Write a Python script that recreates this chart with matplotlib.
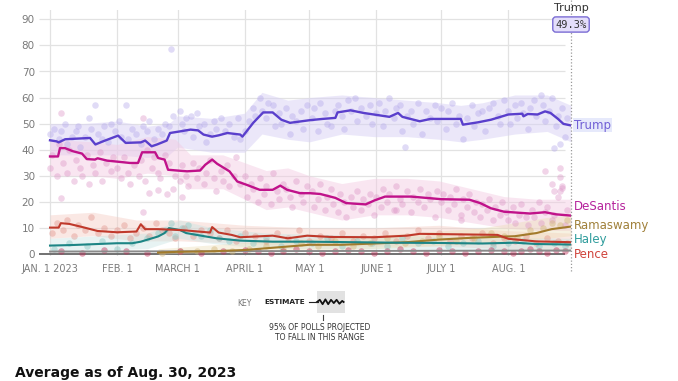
import matplotlib
matplotlib.use("Agg")
import matplotlib.pyplot as plt
import pandas as pd
import numpy as np
from matplotlib.lines import Line2D
from matplotlib.patches import Rectangle

plt.rcParams['font.family'] = ['DejaVu Sans']

BASE = pd.Timestamp('2023-01-01')
END = pd.Timestamp('2023-08-30')

def to_dates(days):
    return BASE + pd.to_timedelta(np.asarray(days, dtype=float), unit='D')

# ---------------- data (days since Jan 1, 2023) ----------------
trump_days = [0, 3, 4, 7, 18.5, 21, 24.5, 31.5, 35, 42, 44, 47, 49.5, 54, 55.5, 60, 65, 68.5, 71, 75, 78, 82,
              88, 89, 94, 98.6, 103, 107, 111, 120, 126, 132, 133, 139, 145, 157, 161, 163, 171, 176, 190, 191,
              198, 204, 212, 218.5, 219, 221, 225.5, 229, 231.5, 235, 237.5, 241]
trump_avg = [43.6, 43.2, 42.8, 44, 44.5, 42, 43.2, 45.4, 42.6, 42.8, 43.5, 41.3, 42, 43.5, 46.4, 47, 47.7, 47.4,
             45.8, 45, 45.5, 46.4, 45.8, 45, 50.3, 54.3, 54.3, 51.5, 50.3, 51.3, 51.8, 52.2, 54.3, 55.1, 54.1,
             52.6, 54.1, 52.6, 50.9, 51.8, 51.8, 49.6, 50.5, 51.5, 53.5, 53.8, 52.8, 53.7, 53.5, 54.7, 54.1, 51.8,
             49.9, 49.3]

desantis_days = [0, 3.7, 4.6, 6.9, 10.6, 14.8, 17, 20.8, 22, 26.4, 32.4, 37, 40.7, 42.6, 48.6, 50, 53, 54.6, 58.8,
                 63.4, 69.4, 71.8, 75, 77.3, 83, 86.6, 91, 97, 103, 106.5, 109.7, 115.7, 120.4, 125, 132, 137,
                 146, 150, 155, 167, 181, 194, 199, 204, 210, 222, 229, 234, 241]
desantis_avg = [37.4, 37.4, 40.6, 40.6, 39.4, 38.5, 36.4, 36.2, 36.7, 35.8, 35.3, 34.9, 34.9, 39, 39, 36.8, 36.2,
                32.3, 32, 31.7, 32, 34.2, 36.2, 34.6, 31.7, 27.8, 26.5, 24.6, 24.6, 26.2, 24.6, 23.3, 23.3, 23,
                21.5, 19.5, 19, 20.5, 22, 22, 21, 20.8, 19.5, 17.5, 16.2, 15.5, 16, 15.2, 14.7]

pence_days = [0, 4, 5, 9, 15, 22, 31, 40, 42, 44, 50, 59, 63, 74, 75, 78, 84, 88, 103, 110, 119, 130, 150, 165,
              171, 190, 207, 212, 225, 241]
pence_avg = [10.1, 10.1, 11.8, 11.5, 10.3, 8.8, 8.3, 8.6, 11.4, 9.5, 9.5, 9.2, 9.0, 8.2, 10.3, 8.2, 7.3, 6.4,
             7.0, 6.0, 7.0, 6.5, 6.4, 7.0, 7.7, 7.5, 7.3, 5.8, 4.8, 4.5]

haley_days = [0, 10, 31, 38, 42, 50, 53, 55, 60, 63, 72, 77, 88, 103, 119, 140, 160, 180, 200, 215, 225, 241]
haley_avg = [3.2, 3.4, 4.1, 4.1, 4.7, 6.7, 8.0, 9.9, 9.2, 8.0, 6.7, 6.0, 5.1, 4.7, 4.7, 4.5, 4.3, 4.2, 4.0, 4.3,
             3.8, 3.6]

rama_days = [50, 59, 75, 90, 105, 120, 135, 150, 165, 180, 195, 205, 215, 225, 232, 241]
rama_avg = [0.5, 0.8, 1.0, 1.5, 2.5, 3.5, 3.5, 4.0, 4.5, 5.5, 6.2, 6.5, 6.8, 8.0, 9.5, 10.5]

other_days = [0, 60, 120, 180, 241]
other_avg = [0.9, 1.0, 1.1, 1.2, 1.3]

# 95% bands
trump_band_days = [0, 15, 31, 45, 55, 59, 75, 90, 98, 110, 120, 135, 150, 165, 180, 190, 200, 215, 230, 241]
trump_lo = [38, 38, 38, 37, 38, 41, 39, 39, 46, 44, 43, 46, 45, 45, 44, 43, 44, 46, 47, 43]
trump_hi = [50, 50, 51, 49, 50, 53, 52, 54, 62, 59, 60, 61, 60, 59, 58, 57, 58, 61, 61, 57]

desantis_band_days = [0, 20, 31, 45, 58, 65, 80, 90, 100, 110, 120, 135, 150, 165, 180, 195, 210, 225, 241]
desantis_lo = [30, 30, 29, 31, 30, 25, 25, 21, 17, 18, 16, 13, 15, 15, 14, 12, 10, 9, 9]
desantis_hi = [44, 43, 42, 45, 44, 38, 38, 35, 32, 33, 30, 27, 29, 29, 28, 25, 22, 21, 21]

pence_band_days = [0, 20, 40, 60, 90, 120, 150, 180, 210, 241]
pence_lo = [6, 7, 5, 5, 4, 3, 3, 3, 2, 1]
pence_hi = [15, 16, 13, 13, 11, 10, 10, 11, 9, 8]

haley_band_days = [0, 45, 60, 75, 100, 150, 241]
haley_lo = [1, 2, 6, 4, 2, 2, 1]
haley_hi = [6, 8, 13, 10, 8, 7, 6]

rama_band_days = [50, 100, 150, 200, 230, 241]
rama_lo = [0, 1, 2, 4, 6, 7]
rama_hi = [2, 5, 7, 10, 14, 15]

# individual polls (day, value)
trump_polls = [(0, 46), (2, 48), (4, 44), (5, 47), (7, 50), (8, 42), (10, 45), (12, 47), (13, 49), (14, 41),
               (16, 45), (18, 52), (19, 48), (21, 57), (22, 46), (24, 44), (25, 49), (27, 43), (28, 50), (30, 47),
               (32, 51), (33, 45), (35, 57), (36, 44), (38, 48), (40, 46), (42, 42), (43, 49), (45, 47), (46, 51),
               (48, 44), (50, 48), (52, 46), (53, 50), (55, 49), (56, 78.5), (57, 53),
               (60, 55), (61, 50), (62, 47), (63, 52), (65, 53), (66, 45), (68, 54), (69, 49), (71, 50), (72, 43),
               (74, 46), (76, 51), (77, 48), (79, 52), (81, 47), (83, 50), (85, 45), (87, 52), (88, 44),
               (90, 47), (92, 51), (94, 56), (95, 53), (97, 60), (98, 55), (100, 52), (101, 58), (103, 57),
               (104, 49), (106, 54), (107, 50), (109, 56), (111, 46), (112, 53), (114, 51), (116, 55), (117, 48),
               (119, 57), (121, 52), (122, 56), (124, 47), (125, 58), (127, 54), (128, 50), (130, 49), (132, 55),
               (133, 57), (135, 53), (136, 48), (138, 59), (139, 55), (141, 60), (142, 51), (144, 56), (146, 53),
               (148, 57), (149, 50), (151, 54), (152, 58), (154, 49), (155, 55), (157, 60), (159, 52), (160, 56),
               (162, 57), (163, 47), (165, 53), (167, 55), (168, 50), (170, 58), (172, 46), (174, 55), (176, 52),
               (178, 57), (179, 51), (181, 56), (183, 48), (184, 55), (186, 58), (188, 50), (189, 53), (191, 44),
               (193, 52), (195, 57), (196, 49), (198, 54), (200, 55), (201, 47), (203, 56), (205, 58), (207, 53),
               (208, 50), (210, 59), (212, 55), (213, 50), (215, 57), (216, 52), (218, 58), (219, 54), (221, 48),
               (222, 56), (224, 59), (225, 53), (227, 61), (228, 57), (229, 51), (231, 55), (232, 60), (234, 49),
               (235, 53), (236, 42), (237, 56), (238, 45), (239, 52), (164, 41), (233, 40.8)]

desantis_polls = [(0, 33), (1, 38), (3, 30), (4, 42), (5, 54), (6, 35), (8, 31), (9, 40), (11, 28), (12, 36),
                  (14, 33), (15, 30), (5, 21.5), (17, 38), (18, 27), (20, 34), (21, 31), (23, 39), (24, 28),
                  (26, 35), (28, 32), (29, 37), (31, 33), (33, 29), (34, 37), (36, 31), (37, 27), (39, 34),
                  (41, 30), (42, 36), (43, 52), (44, 28), (45, 40), (47, 33), (48, 37), (50, 31), (51, 29),
                  (53, 38), (54, 23), (55, 35), (57, 25), (58, 30), (43, 16), (46, 23.5), (50, 24.6), (61, 22),
                  (60, 28), (61, 34), (63, 30), (64, 26), (66, 35), (68, 29), (69, 33), (71, 27), (72, 31),
                  (74, 36), (76, 29), (77, 24), (79, 32), (80, 28), (82, 34), (83, 26), (85, 30), (86, 37),
                  (88, 27), (90, 30), (91, 22), (93, 27), (94, 25), (96, 20), (97, 29), (99, 23), (100, 26),
                  (102, 19), (103, 31), (105, 24), (106, 21), (108, 27), (109, 25), (111, 22), (112, 18),
                  (114, 28), (116, 23), (117, 20), (119, 26), (121, 24), (122, 18), (124, 21), (125, 27),
                  (127, 17), (128, 22), (130, 25), (131, 19), (133, 16), (134, 23), (136, 20), (137, 14),
                  (139, 22), (140, 18), (142, 24), (144, 17), (145, 21), (147, 19), (148, 23), (150, 15),
                  (151, 22), (153, 18), (154, 25), (156, 20), (157, 23), (159, 17), (160, 26), (162, 21),
                  (163, 19), (165, 24), (167, 16), (168, 22), (170, 20), (171, 25), (173, 18), (175, 23),
                  (176, 21), (178, 14), (179, 24), (181, 20), (182, 23), (184, 17), (185, 22), (187, 19),
                  (188, 25), (190, 15), (191, 21), (193, 18), (194, 23), (196, 16), (197, 20), (199, 14),
                  (200, 19), (202, 17), (203, 21), (205, 13), (206, 18), (208, 15), (209, 20), (211, 16),
                  (212, 13), (214, 18), (215, 12), (217, 15), (218, 19), (220, 14), (221, 11), (223, 17),
                  (224, 14), (226, 20), (227, 12), (229, 16), (230, 18), (232, 13), (233, 15), (235, 22),
                  (236, 24), (237, 26), (238, 11), (239, 17), (229, 32), (232, 27), (233, 24), (236, 33),
                  (236, 29.6), (237, 25.4), (160, 17), (190, 13)]

pence_poll_days = [1, 3, 6, 8, 11, 13, 16, 19, 22, 25, 28, 31, 34, 37, 40, 43, 46, 49, 52, 55, 58, 62, 66, 70,
                   74, 78, 82, 86, 90, 95, 100, 105, 110, 115, 120, 125, 130, 135, 140, 145, 150, 155, 160, 165,
                   170, 175, 180, 185, 190, 195, 200, 205, 210, 215, 220, 225, 230, 235, 239]
pence_poll_vals = [8, 12, 9, 13, 7, 11, 9, 14, 8, 10, 7, 9, 11, 6, 8, 10, 7, 12, 9, 8, 6, 10, 7, 9, 8, 6, 9, 5,
                   8, 7, 5, 8, 6, 9, 5, 7, 6, 8, 5, 7, 6, 8, 5, 7, 9, 6, 8, 5, 7, 6, 8, 4, 6, 5, 7, 4, 6, 5, 4]

haley_poll_days = [2, 9, 17, 24, 31, 38, 45, 50, 53, 56, 58, 61, 64, 67, 70, 74, 78, 83, 88, 94, 100, 107, 114,
                   121, 128, 135, 142, 149, 156, 163, 170, 177, 184, 191, 198, 205, 212, 219, 226, 233, 238]
haley_poll_vals = [2, 4, 3, 5, 2, 4, 6, 8, 9, 12, 7, 10, 11, 8, 7, 9, 6, 5, 7, 4, 6, 3, 5, 4, 6, 3, 5, 4, 3, 6,
                   4, 5, 3, 4, 5, 3, 4, 5, 3, 4, 3]

rama_poll_days = [52, 60, 68, 76, 84, 92, 100, 108, 116, 124, 132, 140, 148, 156, 164, 172, 180, 188, 196, 204,
                  210, 216, 222, 228, 232, 236, 239]
rama_poll_vals = [0.5, 1, 1, 2, 1, 2, 3, 2, 4, 3, 5, 3, 4, 6, 4, 5, 7, 5, 6, 8, 7, 6, 9, 10, 12, 11, 13]

other_poll_days = [5, 15, 25, 35, 45, 60, 70, 80, 90, 96, 102, 108, 114, 120, 126, 132, 138, 144, 150, 156, 162,
                   168, 174, 180, 186, 192, 198, 204, 210, 214, 218, 222, 226, 230, 234, 238]
other_poll_vals = [1, 0.5, 1.5, 1, 0.5, 1, 0.5, 1, 1.5, 1, 0.5, 1, 2, 1, 0.5, 1, 1.5, 1, 0.5, 1, 2, 1, 0.5, 1.5,
                   1, 0.5, 1, 1.5, 1, 0.5, 1, 2, 1, 0.5, 1.5, 1]

month_ticks = ['2023-01-01', '2023-02-01', '2023-03-01', '2023-04-01', '2023-05-01', '2023-06-01',
               '2023-07-01', '2023-08-01']
month_labels = ['JAN. 1 2023', 'FEB. 1', 'MARCH 1', 'APRIL 1', 'MAY 1', 'JUNE 1', 'JULY 1', 'AUG. 1']
y_ticks = [0, 10, 20, 30, 40, 50, 60, 70, 80, 90]

final_name = 'Trump'
final_value = '49.3%'
label_names = ['Trump', 'DeSantis', 'Ramaswamy', 'Haley', 'Pence']

# key glyph shape (relative units inside the key box)
key_wiggle_x = [0.0, 0.1, 0.2, 0.3, 0.4, 0.5, 0.6, 0.7, 0.8, 0.9, 0.95]
key_wiggle_y = [0.5, 0.6, 0.4, 0.62, 0.4, 0.6, 0.45, 0.6, 0.42, 0.55, 0.5]

# ---------------- styling ----------------
C_TRUMP, C_TRUMP_LBL = '#5a3fcc', '#7160d6'
C_DES, C_DES_LBL = '#c0128a', '#b5239c'
C_PENCE, C_PENCE_LBL = '#c0392b', '#d0433b'
C_HALEY, C_HALEY_LBL = '#1c8585', '#2e9c9c'
C_RAMA, C_RAMA_LBL = '#a27b2c', '#a0803a'

W, H = 678, 381
fig = plt.figure(figsize=(W / 100, H / 100), dpi=100)
L, R, T, B = 39, 571, 10, 256
ax = fig.add_axes([L / W, 1 - B / H, (R - L) / W, (B - T) / H])

xmin = BASE - pd.Timedelta(days=5.1)
ax.set_xlim(xmin, END)
ax.set_ylim(-0.8, 93.6)

# grid
for yv in y_ticks[1:]:
    ax.hlines(yv, xmin, END - pd.Timedelta(days=3), color='#e2e2e2', lw=0.9, zorder=0)
for mt in month_ticks:
    ax.axvline(pd.Timestamp(mt), color='#e2e2e2', lw=0.9, zorder=0)
ax.hlines(0, xmin, END - pd.Timedelta(days=3), color='#666666', lw=1.3, zorder=1)

# bands
ax.fill_between(to_dates(trump_band_days), trump_lo, trump_hi, color='#d8d1f5', alpha=0.5, lw=0, zorder=1)
ax.fill_between(to_dates(desantis_band_days), desantis_lo, desantis_hi, color='#f3c8e1', alpha=0.45, lw=0, zorder=1)
ax.fill_between(to_dates(pence_band_days), pence_lo, pence_hi, color='#f5cdc5', alpha=0.45, lw=0, zorder=1)
ax.fill_between(to_dates(haley_band_days), haley_lo, haley_hi, color='#c5e3e2', alpha=0.4, lw=0, zorder=1)
ax.fill_between(to_dates(rama_band_days), rama_lo, rama_hi, color='#ecdcb4', alpha=0.4, lw=0, zorder=1)

# polls
td, tv = zip(*trump_polls)
ax.scatter(to_dates(td), tv, s=22, color='#b3a7ea', alpha=0.4, lw=0, zorder=2)
dd, dv = zip(*desantis_polls)
ax.scatter(to_dates(dd), dv, s=22, color='#dc94c6', alpha=0.4, lw=0, zorder=2)
ax.scatter(to_dates(pence_poll_days), pence_poll_vals, s=22, color='#e08f86', alpha=0.4, lw=0, zorder=2)
ax.scatter(to_dates(haley_poll_days), haley_poll_vals, s=22, color='#8cc7c4', alpha=0.45, lw=0, zorder=2)
ax.scatter(to_dates(rama_poll_days), rama_poll_vals, s=22, color='#d2b67a', alpha=0.45, lw=0, zorder=2)
ax.scatter(to_dates(other_poll_days), other_poll_vals, s=22, color='#c0305a', alpha=0.45, lw=0, zorder=2)

# averages
ax.plot(to_dates(other_days), other_avg, color='#8a8a8a', lw=1.4, zorder=3)
ax.plot(to_dates(rama_days), rama_avg, color=C_RAMA, lw=1.5, zorder=3)
ax.plot(to_dates(haley_days), haley_avg, color=C_HALEY, lw=1.5, zorder=3)
ax.plot(to_dates(pence_days), pence_avg, color=C_PENCE, lw=1.5, zorder=3)
ax.plot(to_dates(desantis_days), desantis_avg, color=C_DES, lw=1.7, zorder=4)
ax.plot(to_dates(trump_days), trump_avg, color=C_TRUMP, lw=1.7, zorder=4)

# ticks
ax.set_xticks([pd.Timestamp(m) for m in month_ticks])
ax.set_xticklabels(month_labels, fontsize=7, color='#7a7a7a')
ax.set_yticks(y_ticks)
ax.set_yticklabels([str(v) for v in y_ticks], fontsize=7.5, color='#7a7a7a')
ax.tick_params(axis='both', length=0)
ax.tick_params(axis='y', pad=3)
ax.tick_params(axis='x', pad=6)
for s in ax.spines.values():
    s.set_visible(False)
ax.set_facecolor('none')

# end marker line
ax.axvline(END, ymin=-0.06, ymax=1.045, clip_on=False, color='#9a9a9a', lw=0.9, ls=(0, (1, 1.6)), zorder=5)

# top callout
fig.text(571 / W, 1 - 8 / H, final_name, ha='center', va='center', fontsize=8, color='#333333')
fig.text(571 / W, 1 - 24.5 / H, final_value, ha='center', va='center', fontsize=7.5, color='#333333',
         family='DejaVu Sans Mono',
         bbox=dict(boxstyle='round,pad=0.25,rounding_size=0.3', facecolor='#e4defb', edgecolor='#7a6cd4', lw=1))

# right labels
lbl_y = [125, 206, 226, 239, 254]
lbl_c = [C_TRUMP_LBL, C_DES_LBL, C_RAMA_LBL, C_HALEY_LBL, C_PENCE_LBL]
for name, yy, cc in zip(label_names, lbl_y, lbl_c):
    kw = {}
    if name == 'Trump':
        kw['bbox'] = dict(facecolor='#e6e9fb', edgecolor='none', pad=0.5)
    fig.text(574 / W, 1 - yy / H, name, ha='left', va='center', fontsize=8.5, color=cc, **kw)

# key
fig.text(237 / W, 1 - 303 / H, 'KEY', ha='left', va='center', fontsize=5.5, color='#777777')
fig.text(264 / W, 1 - 302 / H, 'ESTIMATE', ha='left', va='center', fontsize=5.3, color='#222222',
         fontweight='semibold')
fig.text(320 / W, 1 - 327 / H, '95% OF POLLS PROJECTED', ha='center', va='center', fontsize=5.5,
         color='#333333')
fig.text(320 / W, 1 - 338 / H, 'TO FALL IN THIS RANGE', ha='center', va='center', fontsize=5.5,
         color='#333333')
kx0, ky0, kw_, kh_ = 317, 291, 28, 22
fig.add_artist(Rectangle((kx0 / W, 1 - (ky0 + kh_) / H), kw_ / W, kh_ / H, transform=fig.transFigure,
                         facecolor='#e2e2e2', edgecolor='none', zorder=10))
wx = [(kx0 + kw_ * v) / W for v in key_wiggle_x]
wy = [1 - (ky0 + kh_ * (1 - v)) / H for v in key_wiggle_y]
fig.add_artist(Line2D(wx, wy, transform=fig.transFigure, color='#111111', lw=1.3, zorder=11))
fig.add_artist(Line2D([309 / W, 318 / W], [1 - 302 / H, 1 - 302 / H], transform=fig.transFigure,
                      color='#222222', lw=0.8, zorder=11))
fig.add_artist(Line2D([323 / W, 323 / W], [1 - 315 / H, 1 - 320 / H], transform=fig.transFigure,
                      color='#444444', lw=0.8, zorder=11))

# bottom heading
fig.text(15 / W, 1 - 380 / H, 'Average as of Aug. 30, 2023', ha='left', va='bottom', fontsize=10,
         fontweight='bold', color='#111111')

fig.savefig('out.png', dpi=100)
